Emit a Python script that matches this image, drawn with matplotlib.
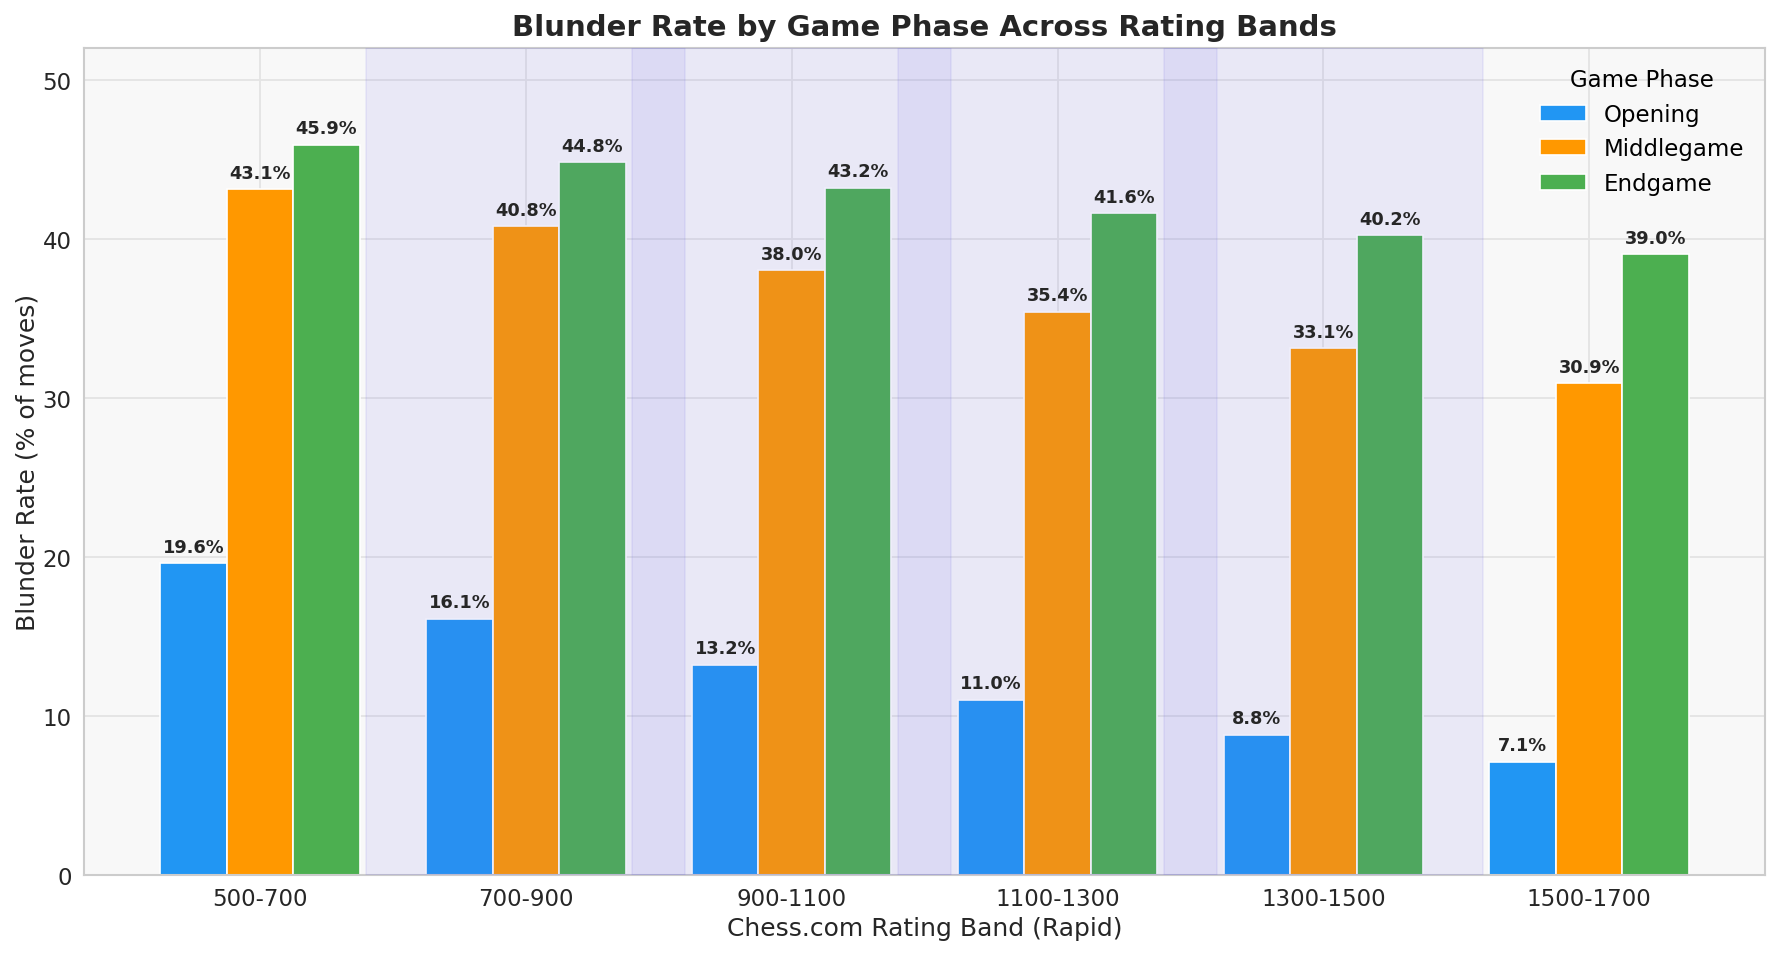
import matplotlib
matplotlib.use("Agg")
import matplotlib.pyplot as plt
import numpy as np

bands = ["500-700", "700-900", "900-1100", "1100-1300", "1300-1500", "1500-1700"]
phases = ["Opening", "Middlegame", "Endgame"]
opening = [19.6, 16.1, 13.2, 11.0, 8.8, 7.1]
middlegame = [43.1, 40.8, 38.0, 35.4, 33.1, 30.9]
endgame = [45.9, 44.8, 43.2, 41.6, 40.2, 39.0]
colors = ["#2196F3", "#FF9800", "#4CAF50"]
highlight_bands = [1, 2, 3, 4]

plt.rcParams['font.family'] = ['DejaVu Sans']
fig = plt.figure(figsize=(1780/150, 955/150), dpi=150)
ax = fig.add_axes([0.0472, 0.0831, 0.9445, 0.8659])
ax.set_facecolor("#f8f8f8")
for s in ax.spines.values():
    s.set_color("#cccccc")
    s.set_linewidth(1.0)
ax.grid(True, color="#e4e4e4", linewidth=0.9, zorder=0)
ax.set_axisbelow(True)

x = np.arange(len(bands))
w = 0.25
series = [opening, middlegame, endgame]
for k, (vals, name, c) in enumerate(zip(series, phases, colors)):
    bars = ax.bar(x + (k - 1) * w, vals, w, color=c, edgecolor="white",
                  linewidth=0.8, label=name, zorder=2)
    for b, v in zip(bars, vals):
        ax.annotate(f"{v:.1f}%", (b.get_x() + b.get_width() / 2, v),
                    xytext=(0, 3.5), textcoords="offset points",
                    ha="center", va="bottom", fontsize=8.5,
                    fontweight="bold", color="#262626", zorder=4)

for i in highlight_bands:
    ax.axvspan(i - 0.6, i + 0.6, color="#6a64e6", alpha=0.1, zorder=3,
               linewidth=0.8)

ax.set_ylim(0, 52)
ax.set_xticks(x)
ax.set_xticklabels(bands)
ax.tick_params(axis="both", labelsize=11, colors="#262626", length=0, pad=6)
ax.set_xlabel("Chess.com Rating Band (Rapid)", fontsize=12, color="#262626",
              labelpad=3)
ax.set_ylabel("Blunder Rate (% of moves)", fontsize=12, color="#262626",
              labelpad=1.5)
ax.set_title("Blunder Rate by Game Phase Across Rating Bands", fontsize=14,
             fontweight="bold", color="#262626", pad=6)
leg = ax.legend(title="Game Phase", loc="upper right", frameon=False,
                fontsize=11, title_fontsize=11, handlelength=2.0)

fig.savefig("out.png", dpi=150, facecolor="white")
